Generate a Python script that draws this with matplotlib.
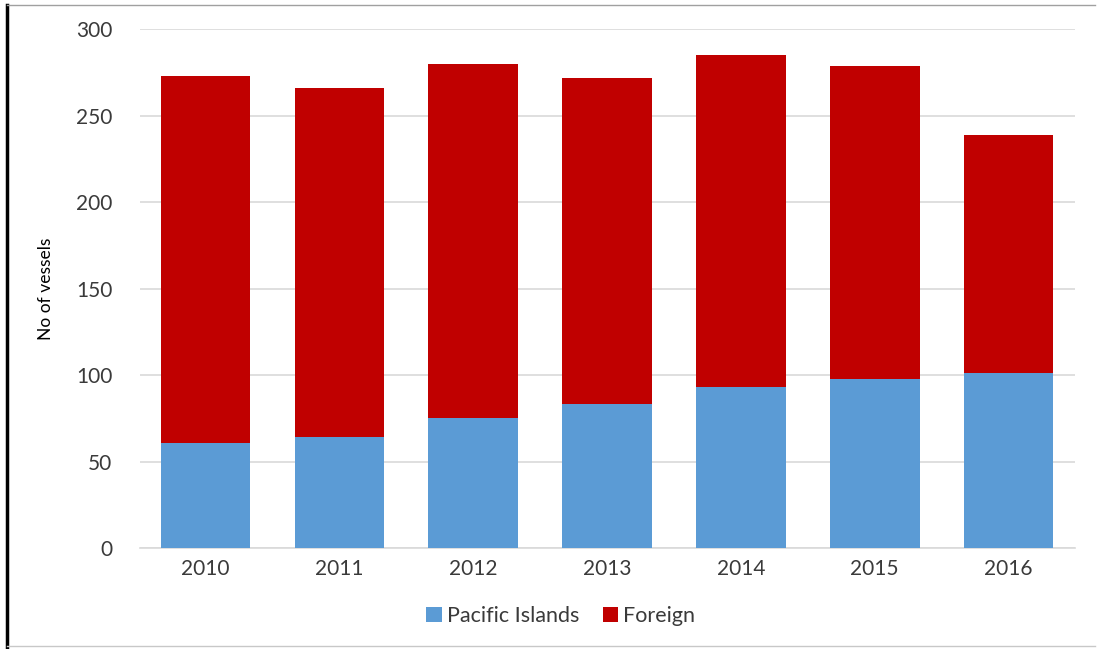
import numpy as np
import matplotlib.pyplot as plt
from matplotlib.lines import Line2D

plt.rcParams['font.family'] = ['Lato', 'DejaVu Sans']

years = ['2010', '2011', '2012', '2013', '2014', '2015', '2016']
pacific = [61, 64, 75, 83, 93, 98, 101]
foreign = [212, 202, 205, 189, 192, 181, 138]

blue = '#5B9BD5'
red = '#C00000'
txt = '#3A3A3A'

fig = plt.figure(figsize=(10.98, 6.49), dpi=100)
ax = fig.add_axes([0.1275, 0.1556, 0.852, 0.7994])

x = np.arange(len(years))
ax.bar(x, pacific, width=0.67, color=blue, label='Pacific Islands', zorder=3)
ax.bar(x, foreign, width=0.67, bottom=pacific, color=red, label='Foreign', zorder=3)

ax.set_xlim(-0.49, 6.5)
ax.set_ylim(0, 300)
ax.set_yticks(range(0, 301, 50))
ax.set_xticks(x)
ax.set_xticklabels(years)
ax.yaxis.grid(True, color='#D9D9D9', lw=1.2, zorder=0)
ax.tick_params(length=0, labelsize=15, colors=txt, pad=8)
ax.tick_params(axis='y', pad=20)
for s in ['top', 'right', 'left']:
    ax.spines[s].set_visible(False)
ax.spines['bottom'].set_color('#D9D9D9')
ax.spines['bottom'].set_linewidth(1.2)
ax.set_ylabel('No of vessels', fontsize=12.5, color='black', labelpad=16)

ax.legend(loc='upper center', bbox_to_anchor=(0.45, -0.075), ncol=2, frameon=False,
          fontsize=15.5, handlelength=0.7, handleheight=0.7, handletextpad=0.25,
          columnspacing=1.1, labelcolor=txt)

# picture frame
fig.add_artist(Line2D([0.006, 0.006], [0.003, 0.993], color='black', lw=2.5))
fig.add_artist(Line2D([0.006, 0.997], [0.993, 0.993], color='#A0A0A0', lw=1))
fig.add_artist(Line2D([0.006, 0.997], [0.004, 0.004], color='#C8C8C8', lw=1))

fig.savefig('out.png', dpi=100)
